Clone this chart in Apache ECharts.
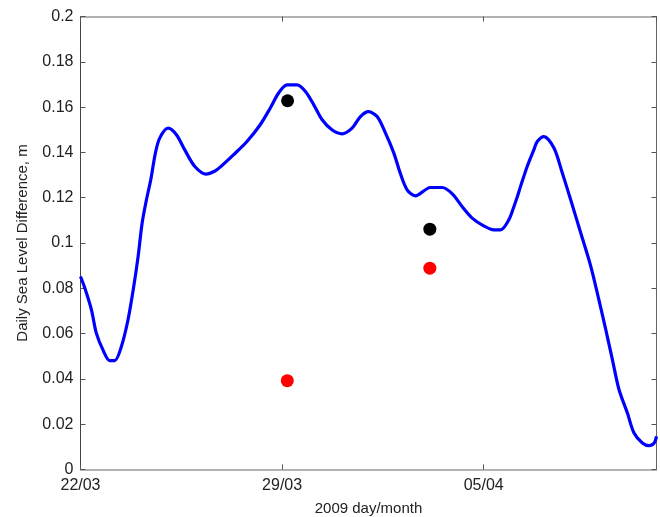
<!DOCTYPE html>
<html>
<head>
<meta charset="utf-8">
<script src="https://cdn.jsdelivr.net/npm/echarts@6/dist/echarts.min.js"></script>
<style>
  html, body { margin: 0; padding: 0; background: #fff; }
  #chart { width: 660px; height: 517px; }
</style>
</head>
<body>
<div id="chart"></div>
<script>
// Days elapsed since 22/03/2009 and daily sea level difference (m)
var days = [0.0, 0.15, 0.38, 0.55, 0.78, 1.01, 1.19, 1.42, 1.65, 1.83, 2.0, 2.14, 2.29, 2.44, 2.6, 2.75,
  3.04, 3.33, 3.62, 3.97, 4.37, 4.67, 4.85, 5.31, 5.78, 6.24, 6.59, 6.88, 7.17, 7.52, 7.81, 8.1,
  8.39, 8.73, 9.08, 9.43, 9.72, 10.0, 10.3, 10.59, 10.88, 11.1, 11.34, 11.63, 12.15, 12.56, 12.91,
  13.25, 13.6, 14.0, 14.35, 14.59, 14.87, 15.05, 15.17, 15.28, 15.51, 15.74, 15.86, 16.09, 16.44,
  16.73, 17.02, 17.37, 17.72, 18.0, 18.24, 18.47, 18.7, 18.99, 19.22, 19.51, 19.74, 19.92, 20.0];
var levelDiff = [0.0852, 0.0801, 0.0705, 0.0602, 0.0528, 0.0481, 0.0481, 0.0543, 0.0661, 0.0793, 0.094,
  0.1088, 0.1191, 0.1279, 0.1397, 0.1463, 0.1507, 0.1478, 0.1411, 0.1338, 0.1304, 0.1318, 0.1335,
  0.1389, 0.1448, 0.1522, 0.1596, 0.1662, 0.1698, 0.1698, 0.1669, 0.161, 0.1544, 0.15, 0.1482,
  0.1507, 0.1558, 0.158, 0.1558, 0.1485, 0.1397, 0.1309, 0.1235, 0.1208, 0.1245, 0.1245, 0.1217,
  0.1161, 0.111, 0.1076, 0.1058, 0.1058, 0.1102, 0.1161, 0.1205, 0.125, 0.1338, 0.1411, 0.1448,
  0.147, 0.1419, 0.1309, 0.1191, 0.1044, 0.0896, 0.0749, 0.0617, 0.0484, 0.0352, 0.0249, 0.0161,
  0.0117, 0.0105, 0.0117, 0.0146];

// Point observations
var blackDays = [7.19, 12.13];
var blackValues = [0.1628, 0.1061];
var redDays = [7.18, 12.13];
var redValues = [0.0392, 0.0889];

// Date tick labels keyed by day offset
var tickDays = [0, 7, 14];
var tickLabels = ['22/03', '29/03', '05/04'];

function pairs(xs, ys) {
  return xs.map(function (x, i) { return [x, ys[i]]; });
}

var font = 'Liberation Sans, Arial, sans-serif';
var chart = echarts.init(document.getElementById('chart'), null, { renderer: 'canvas' });

function tick() {
  return { show: true, inside: true, length: 5, lineStyle: { color: '#555', width: 1 } };
}
function line(color, width) {
  return { show: true, onZero: false, lineStyle: { color: color, width: width } };
}

chart.setOption({
  animation: false,
  backgroundColor: '#fff',
  grid: {
    left: 80.5, right: 3.5, top: 16.5, bottom: 47.5,
    containLabel: false, outerBoundsMode: 'none'
  },
  xAxis: [
    {
      type: 'value', min: 0, max: 20, interval: 7, position: 'bottom',
      name: '2009 day/month', nameLocation: 'middle', nameGap: 32,
      nameTextStyle: { fontFamily: font, fontSize: 15, color: '#222' },
      axisLine: line('#999', 1.5),
      axisTick: tick(),
      splitLine: { show: false },
      axisLabel: {
        fontFamily: font, fontSize: 16, color: '#222', margin: 8,
        showMaxLabel: false,
        formatter: function (v) {
          var i = tickDays.indexOf(Math.round(v));
          return i >= 0 ? tickLabels[i] : '';
        }
      }
    },
    {
      type: 'value', min: 0, max: 20, interval: 7, position: 'top',
      axisLine: line('#999', 1.5),
      axisTick: tick(),
      splitLine: { show: false },
      axisLabel: { show: false }
    }
  ],
  yAxis: [
    {
      type: 'value', min: 0, max: 0.2, interval: 0.02, position: 'left',
      name: 'Daily Sea Level Difference, m', nameLocation: 'middle', nameGap: 50,
      nameTextStyle: { fontFamily: font, fontSize: 15, color: '#222' },
      axisLine: line('#444', 1),
      axisTick: tick(),
      splitLine: { show: false },
      axisLabel: {
        fontFamily: font, fontSize: 16, color: '#222', margin: 7,
        formatter: function (v) { return String(parseFloat(v.toFixed(2))); }
      }
    },
    {
      type: 'value', min: 0, max: 0.2, interval: 0.02, position: 'right',
      axisLine: line('#666', 1),
      axisTick: tick(),
      splitLine: { show: false },
      axisLabel: { show: false }
    }
  ],
  series: [
    {
      type: 'line', xAxisIndex: 0, yAxisIndex: 0,
      data: pairs(days, levelDiff),
      smooth: 0.3, showSymbol: false,
      lineStyle: { color: '#0000ff', width: 3.2 },
      z: 2
    },
    {
      type: 'scatter', xAxisIndex: 0, yAxisIndex: 0,
      data: pairs(blackDays, blackValues),
      symbolSize: 13, itemStyle: { color: '#000', opacity: 1 }, z: 3
    },
    {
      type: 'scatter', xAxisIndex: 0, yAxisIndex: 0,
      data: pairs(redDays, redValues),
      symbolSize: 13, itemStyle: { color: '#ff0000', opacity: 1 }, z: 3
    }
  ]
});
</script>
</body>
</html>
